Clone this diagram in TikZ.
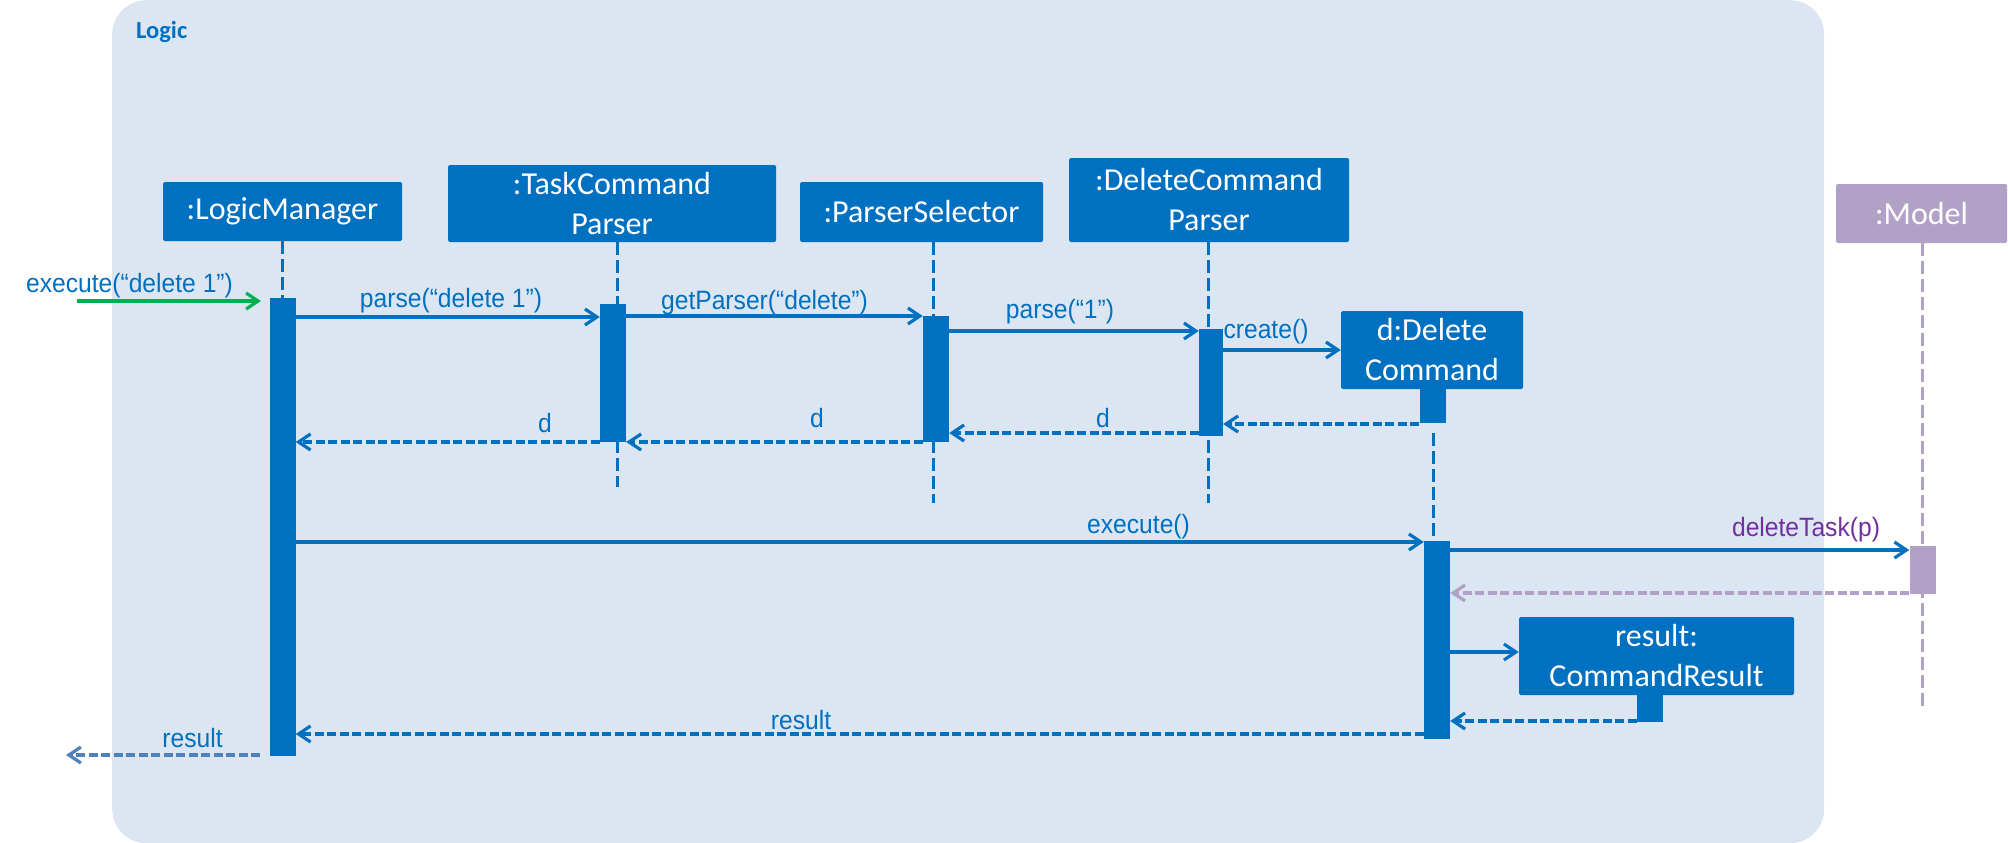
\documentclass[tikz,border=0pt]{standalone}
\usepackage{fontspec}
\setmainfont{Liberation Sans}
\newfontfamily\boxfont{Carlito}
\newfontfamily\msgfont[FakeStretch=0.93]{Liberation Sans}
\usetikzlibrary{arrows.meta}
\definecolor{boxblue}{HTML}{0070C0}
\definecolor{bgc}{HTML}{DCE6F2}
\definecolor{modelc}{HTML}{B2A1C7}
\definecolor{purplec}{HTML}{7030A0}
\definecolor{greenc}{HTML}{00B050}
\definecolor{outc}{HTML}{4F81BD}
\pgfdeclarelayer{back}
\pgfdeclarelayer{mid}
\pgfsetlayers{back,mid,main}
\tikzset{
  obj/.style={fill=boxblue, text=white, font=\boxfont\fontsize{32}{40}\selectfont, align=center, inner sep=0pt, rounded corners=1.5pt},
  act/.style={fill=boxblue, inner sep=0pt, minimum width=26pt},
  life/.style={boxblue, line width=3pt, dash pattern=on 13pt off 5pt},
  msg/.style={boxblue, line width=3.2pt, -{Straight Barb[length=12pt,width=16pt]}},
  ret/.style={msg, dash pattern=on 9pt off 3.5pt},
  lbl/.style={anchor=base, inner sep=0pt, text=boxblue, font=\msgfont\fontsize{26.5}{30}\selectfont}
}
\begin{document}
\begin{tikzpicture}[x=1pt,y=-1pt]
\useasboundingbox (0,0) rectangle (2008,843);
\begin{pgfonlayer}{back}
\node[fill=bgc, rounded corners=34pt, minimum width=1712pt, minimum height=843pt, inner sep=0pt, anchor=north west] (logicbox) at (112,0) {};
\end{pgfonlayer}
\node[anchor=base west, font=\boxfont\bfseries\fontsize{24.5}{28}\selectfont, text=boxblue, inner sep=0pt] (title) at (136,39) {Logic};

% header boxes
\node[obj, minimum width=239pt, minimum height=59pt] (lm) at (282.5,211.5) {:LogicManager};
\node[obj, minimum width=328pt, minimum height=77pt] (tcp) at (612,203.5) {:TaskCommand\\Parser};
\node[obj, minimum width=243pt, minimum height=60pt] (ps) at (921.5,212) {:ParserSelector};
\node[obj, minimum width=280pt, minimum height=84pt] (dcp) at (1209,200) {:DeleteCommand\\Parser};
\node[obj, minimum width=182pt, minimum height=78pt] (dc) at (1432,350) {d:Delete\\Command};
\node[obj, fill=modelc, minimum width=171pt, minimum height=59pt] (model) at (1921.5,213.5) {:Model};
\node[obj, minimum width=275pt, minimum height=78pt] (cr) at (1656.5,656) {result:\\CommandResult};

% activations
\node[act, minimum height=458pt] (lmA) at (282.5,527) {};
\node[act, minimum height=138pt] (tcpA) at (613,373) {};
\node[act, minimum height=126pt] (psA) at (936,379) {};
\node[act, minimum width=24pt, minimum height=107pt] (dcpA) at (1211,382.5) {};
\node[act, minimum height=34pt] (dcA0) at (1432.5,406) {};
\node[act, minimum height=198pt] (dcA) at (1437,640) {};
\node[act, fill=modelc, minimum height=48pt] (modelA) at (1922.5,570) {};
\node[act, minimum height=27pt] (crA) at (1650,708.5) {};

% lifelines
\coordinate (tcpL) at (617,487);
\coordinate (psL) at (933,503);
\coordinate (dcpL) at (1208,503);
\coordinate (dcL) at (1433,433);
\coordinate (modelL) at (1922,706);
\begin{pgfonlayer}{mid}
\draw[life] (lm.south) -- (lmA.north);
\draw[life] (tcp.south -| tcpL) -- (tcpL);
\draw[life] (ps.south -| psL) -- (psL);
\draw[life] (dcp.south -| dcpL) -- (dcpL);
\draw[life] (dcL) -- (dcL |- dcA.north);
\draw[life, modelc] (model.south -| modelL) -- (modelL);
\end{pgfonlayer}

% incoming call
\coordinate (inS) at (77,301);
\coordinate (inE) at (261,301);
\draw[msg, greenc] (inS) -- (inE);
\node[lbl] (l0) at (129.5,292) {execute(“delete 1”)};

\coordinate (y1) at (0,317);
\draw[msg] (lmA.east |- y1) -- (tcpA.west |- y1);
\node[lbl] (l1) at (451,307) {parse(“delete 1”)};

\coordinate (y2) at (0,316);
\draw[msg] (tcpA.east |- y2) -- (psA.west |- y2);
\node[lbl] (l2) at (764.5,309) {getParser(“delete”)};

\coordinate (y3) at (0,331);
\draw[msg] (psA.east |- y3) -- (dcpA.west |- y3);
\node[lbl] (l3) at (1060,318) {parse(“1”)};

\coordinate (y4) at (0,350);
\draw[msg] (dcpA.east |- y4) -- (dc.west |- y4);
\node[lbl] (l4) at (1266,338) {create()};

\coordinate (y5) at (0,424);
\draw[ret] (dcA0.west |- y5) -- (dcpA.east |- y5);

\coordinate (y6) at (0,433);
\draw[ret] (dcpA.west |- y6) -- (psA.east |- y6);
\node[lbl] (l6) at (1103,427) {d};

\coordinate (y7) at (0,442);
\draw[ret] (psA.west |- y7) -- (tcpA.east |- y7);
\node[lbl] (l7) at (817,427) {d};
\draw[ret] (tcpA.west |- y7) -- (lmA.east |- y7);
\node[lbl] (l8) at (545,432) {d};

\coordinate (y9) at (0,542);
\draw[msg] (lmA.east |- y9) -- (dcA.west |- y9);
\node[lbl] (l9) at (1138.5,533) {execute()};

\coordinate (y10) at (0,550);
\draw[msg] (dcA.east |- y10) -- (modelA.west |- y10);
\node[lbl, text=purplec] (l10) at (1806,536) {deleteTask(p)};

\coordinate (y11) at (0,593);
\draw[ret, modelc] (modelA.west |- y11) -- (dcA.east |- y11);

\coordinate (y12) at (0,652);
\draw[msg] (dcA.east |- y12) -- (cr.west |- y12);

\coordinate (y13) at (0,721);
\draw[ret] (crA.west |- y13) -- (dcA.east |- y13);

\coordinate (y14) at (0,734);
\draw[ret] (dcA.west |- y14) -- (lmA.east |- y14);
\node[lbl] (l14) at (801,729) {result};

\coordinate (oS) at (260,755);
\coordinate (oE) at (66,755);
\draw[ret, outc] (oS) -- (oE);
\node[lbl] (l15) at (192.5,747) {result};
\end{tikzpicture}
\end{document}
